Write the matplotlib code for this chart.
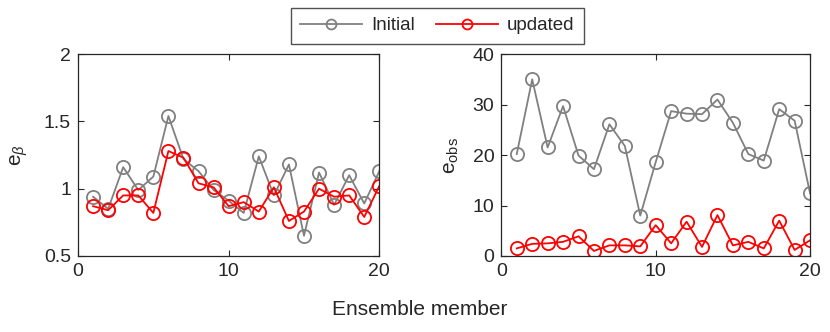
import matplotlib.pyplot as plt

plt.rcParams['font.family'] = ['Liberation Sans', 'DejaVu Sans']
plt.rcParams['mathtext.fontset'] = 'custom'
plt.rcParams['mathtext.rm'] = 'Liberation Sans'
plt.rcParams['mathtext.it'] = 'Liberation Sans:italic'

members = list(range(1, 21))

beta_initial = [0.94, 0.85, 1.16, 0.99, 1.09, 1.54, 1.22, 1.13, 0.99, 0.91,
                0.82, 1.24, 0.95, 1.18, 0.65, 1.12, 0.88, 1.10, 0.89, 1.13]
beta_updated = [0.87, 0.84, 0.95, 0.95, 0.82, 1.28, 1.23, 1.04, 1.01, 0.87,
                0.90, 0.83, 1.01, 0.76, 0.83, 1.00, 0.94, 0.95, 0.79, 1.02]

obs_initial = [20.2, 35.0, 21.5, 29.7, 19.9, 17.2, 26.1, 21.8, 8.0, 18.6,
               28.7, 28.2, 28.1, 31.0, 26.4, 20.2, 18.9, 29.1, 26.8, 12.4]
obs_updated = [1.5, 2.4, 2.5, 2.8, 3.9, 1.0, 2.1, 2.1, 1.9, 6.1,
               2.5, 6.8, 1.8, 8.1, 2.1, 2.8, 1.5, 7.0, 1.2, 3.1]

gray = '#808080'
red = '#ff0000'
txt = '#262626'

fig = plt.figure(figsize=(8.3, 3.32), dpi=100)
ax1 = fig.add_axes([0.094, 0.229, 0.363, 0.608])
ax2 = fig.add_axes([0.604, 0.229, 0.372, 0.608])

def style(ax):
    ax.tick_params(direction='in', top=True, right=True, labelsize=14,
                   colors=txt, length=4, width=0.8, pad=5)
    for s in ax.spines.values():
        s.set_color(txt)
        s.set_linewidth(0.9)
    ax.set_xlim(0, 20)
    ax.set_xticks([0, 10, 20])

mk = dict(marker='o', markersize=9.5, markerfacecolor='none', markeredgewidth=1.3, linewidth=1.3)

l1, = ax1.plot(members, beta_initial, color=gray, label='Initial', **mk)
l2, = ax1.plot(members, beta_updated, color=red, label='updated', **mk)
style(ax1)
ax1.set_ylim(0.5, 2)
ax1.set_yticks([0.5, 1, 1.5, 2])
ax1.set_yticklabels(['0.5', '1', '1.5', '2'])
ax1.set_ylabel(r'e$_\beta$', fontsize=15, color=txt, labelpad=10)

ax2.plot(members, obs_initial, color=gray, **mk)
ax2.plot(members, obs_updated, color=red, **mk)
style(ax2)
ax2.set_ylim(0, 40)
ax2.set_yticks([0, 10, 20, 30, 40])
ax2.set_ylabel(r'e$_\mathregular{obs}$', fontsize=15, color=txt, labelpad=8)

fig.text(0.506, 0.051, 'Ensemble member', ha='center', va='baseline', fontsize=15, color=txt)

leg = fig.legend(handles=[l1, l2], loc='upper center', bbox_to_anchor=(0.527, 0.976),
                 ncol=2, fontsize=13.5, frameon=True, fancybox=False, markerscale=0.75,
                 handlelength=3.3, handletextpad=0.5, columnspacing=1.1,
                 borderpad=0.5, borderaxespad=0.0)
leg.get_frame().set_edgecolor(txt)
leg.get_frame().set_linewidth(1.0)
for t in leg.get_texts():
    t.set_color(txt)

fig.savefig('out.png', dpi=100)
